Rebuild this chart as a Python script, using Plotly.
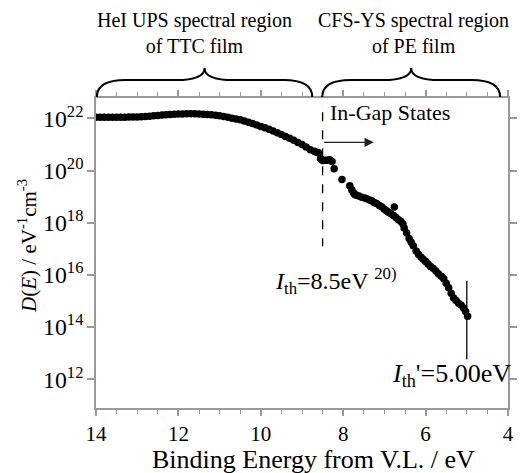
import plotly.graph_objects as go

# HeI UPS region (TTC film)
ups_energy = [14.0, 13.9, 13.8, 13.7, 13.6, 13.5, 13.4, 13.3, 13.2, 13.1, 13.0, 12.9, 12.8, 12.7,
              12.6, 12.5, 12.4, 12.3, 12.2, 12.1, 12.0, 11.9, 11.8, 11.7, 11.6, 11.5, 11.4, 11.3,
              11.2, 11.1, 11.0, 10.9, 10.8, 10.7, 10.6, 10.5, 10.4, 10.3, 10.2, 10.1, 10.0, 9.9,
              9.8, 9.7, 9.6, 9.5, 9.4, 9.3, 9.2, 9.1, 9.0, 8.9, 8.8, 8.7, 8.65, 8.6]
ups_dos = [1.10e22, 1.10e22, 1.10e22, 1.10e22, 1.10e22, 1.10e22, 1.10e22, 1.10e22, 1.12e22, 1.12e22,
           1.12e22, 1.15e22, 1.17e22, 1.20e22, 1.26e22, 1.29e22, 1.35e22, 1.38e22, 1.41e22, 1.45e22,
           1.48e22, 1.48e22, 1.51e22, 1.51e22, 1.51e22, 1.48e22, 1.45e22, 1.41e22, 1.38e22, 1.32e22,
           1.26e22, 1.17e22, 1.10e22, 1.02e22, 9.5e21, 8.9e21, 7.9e21, 7.1e21, 6.3e21, 5.6e21,
           4.9e21, 4.4e21, 3.8e21, 3.3e21, 2.8e21, 2.4e21, 2.0e21, 1.74e21, 1.45e21, 1.20e21,
           1.0e21, 7.9e20, 6.3e20, 5.5e20, 5.0e20, 4.8e20]

# CFS-YS region (PE film)
ys_energy = [8.55, 8.50, 8.45, 8.39, 8.33, 8.27, 8.22, 8.03, 7.84, 7.79, 7.75, 7.72, 7.68, 7.62,
             7.55, 7.48, 7.43, 7.36, 7.30, 7.25, 7.19, 7.12, 7.06, 7.00, 6.95, 6.90, 6.84, 6.76,
             6.78, 6.72, 6.66, 6.60, 6.55, 6.52, 6.46, 6.40, 6.35, 6.30, 6.23, 6.17, 6.11, 6.06,
             6.00, 5.94, 5.88, 5.82, 5.75, 5.69, 5.62, 5.56, 5.50, 5.44, 5.38, 5.32, 5.26, 5.20,
             5.14, 5.08, 5.03, 4.98]
ys_dos = [2.8e20, 2.4e20, 2.5e20, 2.5e20, 2.6e20, 2.2e20, 1.17e20, 4.5e19, 2.6e19, 1.8e19, 1.4e19,
          1.2e19, 1.12e19, 1.05e19, 9.5e18, 8.9e18, 8.3e18, 7.4e18, 6.8e18, 6.0e18, 5.4e18, 4.6e18,
          4.0e18, 3.3e18, 2.9e18, 2.5e18, 2.2e18, 4.0e18, 1.9e18, 1.6e18, 1.3e18, 1.12e18, 8.9e17,
          6.3e17, 4.0e17, 2.5e17, 1.8e17, 1.3e17, 8.3e16, 6.0e16, 4.8e16, 4.0e16, 3.3e16, 2.6e16,
          2.1e16, 1.8e16, 1.4e16, 1.12e16, 8.9e15, 7.1e15, 4.8e15, 3.2e15, 2.0e15, 1.3e15, 1.05e15,
          8.3e14, 7.1e14, 5.4e14, 4.0e14, 2.6e14]

ith_energy = [8.5, 8.5]
ith_dos = [1.7e22, 1.26e17]
ithp_energy = [5.0, 5.0]
ithp_dos = [5.9e15, 5.9e12]

FONT = "Liberation Serif, Times New Roman, Times, serif"

fig = go.Figure()
fig.add_trace(go.Scatter(x=ups_energy, y=ups_dos, mode="markers",
                         marker=dict(color="black", size=7.5), showlegend=False))
fig.add_trace(go.Scatter(x=ys_energy, y=ys_dos, mode="markers",
                         marker=dict(color="black", size=7.5), showlegend=False))
fig.add_trace(go.Scatter(x=ith_energy, y=ith_dos, mode="lines",
                         line=dict(color="black", width=1.3, dash="dash"), showlegend=False))
fig.add_trace(go.Scatter(x=ithp_energy, y=ithp_dos, mode="lines",
                         line=dict(color="black", width=1.3), showlegend=False))

def brace(left, right, y_end=1.003, y_flat=1.058, y_cusp=1.097, d=0.7):
    mid = (left + right) / 2
    return (f"M {left},{y_end} Q {left},{y_flat} {left-d},{y_flat} "
            f"L {mid+d},{y_flat} Q {mid},{y_flat} {mid},{y_cusp} "
            f"Q {mid},{y_flat} {mid-d},{y_flat} L {right+d},{y_flat} "
            f"Q {right},{y_flat} {right},{y_end}")

for l, r in [(13.98, 8.75), (8.51, 4.19)]:
    fig.add_shape(type="path", path=brace(l, r), xref="x", yref="paper",
                  line=dict(color="black", width=2))

ann_font = dict(family=FONT, size=20, color="black")
fig.add_annotation(x=11.6, y=1.21, xref="x", yref="paper",
                   text="HeI UPS spectral region<br>of TTC film", showarrow=False,
                   font=ann_font, yanchor="middle")
fig.add_annotation(x=6.3, y=1.21, xref="x", yref="paper",
                   text="CFS-YS spectral region<br>of PE film", showarrow=False,
                   font=ann_font, yanchor="middle")
fig.add_annotation(x=8.36, y=22.23, xref="x", yref="y", text="In-Gap States",
                   showarrow=False, xanchor="left", font=dict(family=FONT, size=22, color="black"))
fig.add_annotation(x=7.26, y=21.08, ax=8.5, ay=21.08, xref="x", yref="y", axref="x", ayref="y",
                   text="", showarrow=True, arrowhead=2, arrowsize=1.4, arrowwidth=1.3,
                   arrowcolor="#222")
fig.add_annotation(x=9.71, y=15.77, xref="x", yref="y",
                   text="<i>I</i><sub>th</sub>=8.5eV <sup>20)</sup>",
                   showarrow=False, xanchor="left", font=dict(family=FONT, size=24, color="black"))
fig.add_annotation(x=1.012, y=0.107, xref="paper", yref="paper",
                   text="<i>I</i><sub>th</sub>'=5.00eV",
                   showarrow=False, xanchor="right", yanchor="middle",
                   font=dict(family=FONT, size=26, color="black"))

# axis titles as annotations for precise placement
fig.add_annotation(x=0.528, y=-0.165, xref="paper", yref="paper",
                   text="Binding Energy from V.L. / eV", showarrow=False,
                   font=dict(family=FONT, size=26, color="black"), yanchor="middle")
fig.add_annotation(x=-0.165, y=0.523, xref="paper", yref="paper", textangle=-90,
                   text="<i>D</i>(<i>E</i>) / eV<sup>-1</sup>cm<sup>-3</sup>", showarrow=False,
                   font=dict(family=FONT, size=21, color="black"), xanchor="center", yanchor="middle")

axis_common = dict(showline=True, linecolor="#999", linewidth=1.5, mirror="ticks",
                   ticks="outside", tickcolor="#999", tickwidth=1.5,
                   showgrid=False, zeroline=False)

fig.update_xaxes(range=[14, 4], dtick=2, tick0=4, ticklen=6,
                 tickfont=dict(family=FONT, size=21, color="black"),
                 minor=dict(dtick=0.5, ticks="outside", ticklen=4, tickcolor="#999", tickwidth=1.2),
                 **axis_common)
fig.update_yaxes(type="log", range=[10.9, 22.78], dtick=2, exponentformat="power", ticklen=7,
                 tickfont=dict(family=FONT, size=19, color="black"),
                 **axis_common)

fig.update_layout(width=529, height=473, margin=dict(l=96, r=16, t=98, b=65),
                  plot_bgcolor="white", paper_bgcolor="white")

fig.write_html("out.html", config={"displayModeBar": False},
               post_script="document.body.style.margin='0px';")
